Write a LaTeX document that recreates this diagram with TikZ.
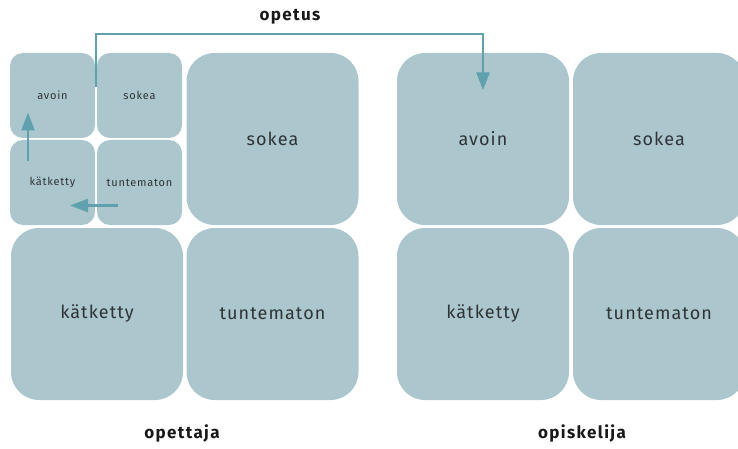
\documentclass[tikz,border=0pt]{standalone}
\usepackage{fontspec}
\setmainfont{Fira Sans}
\usetikzlibrary{arrows.meta,calc}
\definecolor{boxc}{HTML}{ABC7CD}
\definecolor{arrc}{HTML}{5FA2AD}
\definecolor{txtc}{HTML}{2F3436}
\tikzset{
  cell/.style={fill=boxc, draw=none, inner sep=0pt, text=txtc},
  smallcell/.style={cell, minimum width=85pt, minimum height=85pt, rounded corners=13pt, font=\fontsize{11}{13}\selectfont\addfontfeature{LetterSpace=7}},
  bigcell/.style={cell, minimum width=172pt, minimum height=172pt, rounded corners=28pt, font=\fontsize{18}{21}\selectfont\addfontfeature{LetterSpace=6}},
  lbl/.style={font=\fontsize{17}{20}\selectfont\bfseries\addfontfeature{LetterSpace=8}, text=black!90},
  arr/.style={draw=arrc, line width=2.6pt, -{Triangle[length=18pt,width=13pt]}},
}
\begin{document}
\begin{tikzpicture}[x=1pt,y=-1pt]
\useasboundingbox (0,0) rectangle (738,449);
\begin{scope}
\clip (0,0) rectangle (738,449);
% teacher small grid
\node[smallcell] (aS) at (52.5,95.5) {avoin};
\node[smallcell] (sS) at (139.5,95.5) {sokea};
\node[smallcell] (kS) at (52.5,182.5) {kätketty};
\node[smallcell] (tS) at (139.5,182.5) {tuntematon};
% teacher big
\node[bigcell] (sL) at (272.5,139) {sokea};
\node[bigcell] (kL) at (97,314) {kätketty};
\node[bigcell] (tL) at (272.5,314) {tuntematon};
% student
\node[bigcell] (aR) at (483,139) {avoin};
\node[bigcell] (sR) at (659,139) {sokea};
\node[bigcell] (kR) at (483,314) {kätketty};
\node[bigcell] (tR) at (659,314) {tuntematon};
\end{scope}
% labels
\node[lbl] (opetus) at (290,17) {opetus};
\node[lbl] (opettaja) at (182,433) {opettaja};
\node[lbl] (opiskelija) at (582,433) {opiskelija};
% arrows
\coordinate (s) at (96,87);
\coordinate (c) at (96,34);
\coordinate (t) at ($(aR.north)+(0,37.5)$);
\draw[arr] (s) -- (c) -| (t);
\coordinate (u1) at (28,161);
\coordinate (u2) at (28,112.5);
\draw[arr] (u1) -- (u2);
\coordinate (l1) at (118,205.5);
\coordinate (l2) at (70,205.5);
\draw[arr] (l1) -- (l2);
\end{tikzpicture}
\end{document}
